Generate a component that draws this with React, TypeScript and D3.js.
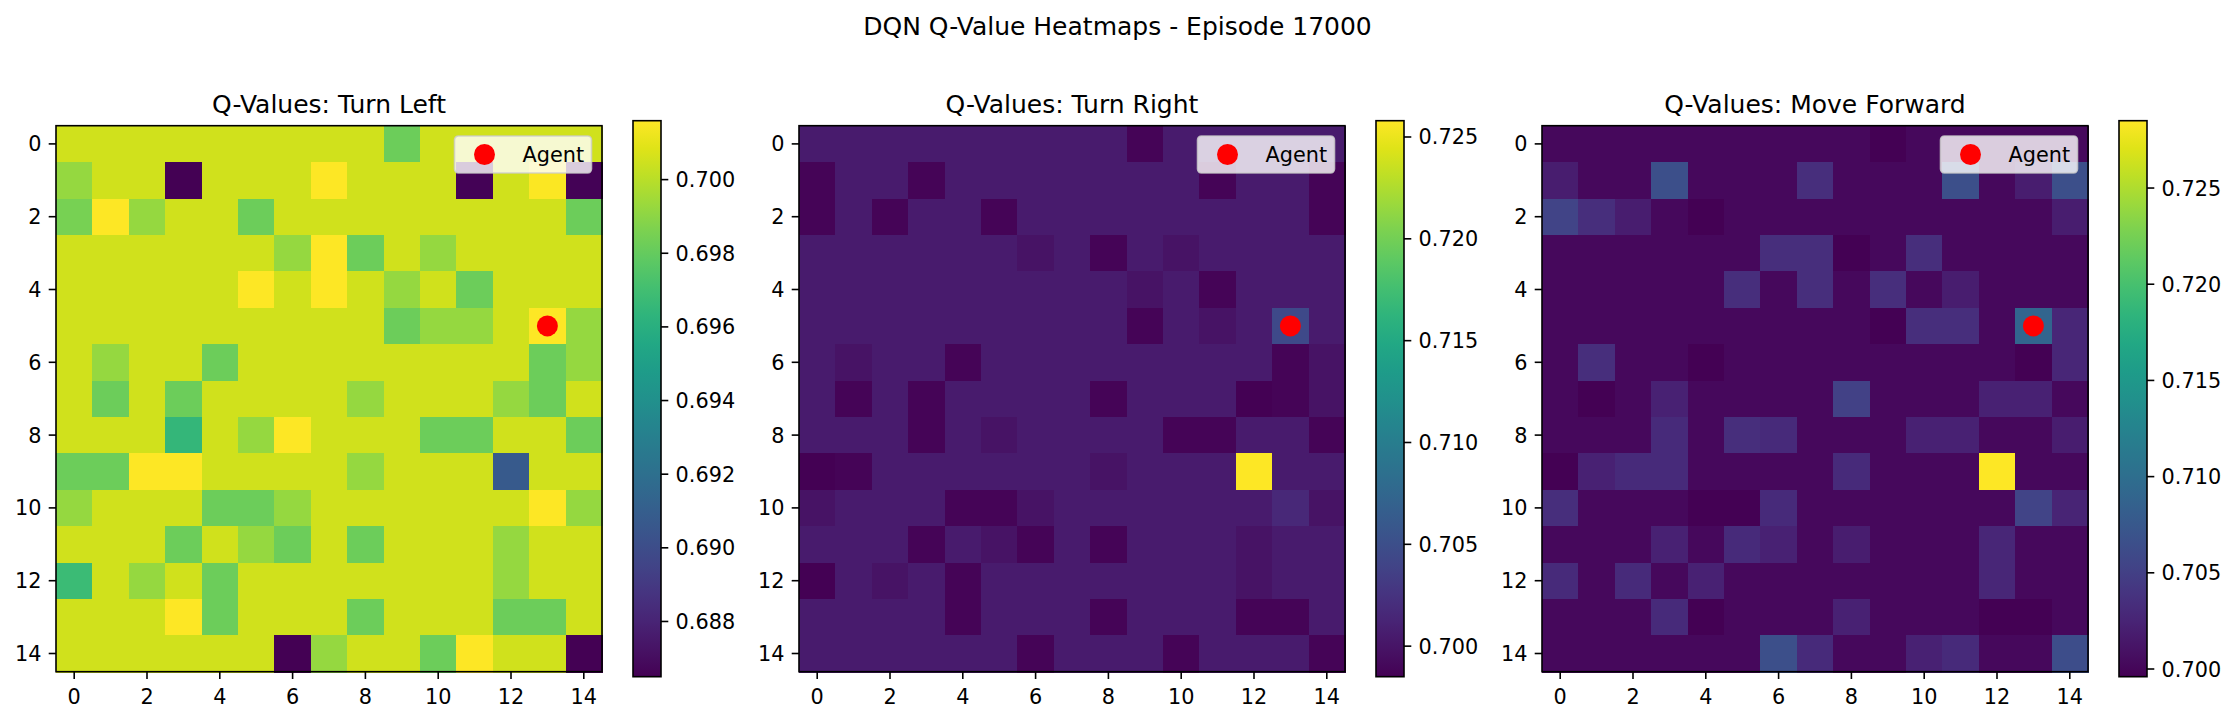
import * as d3 from 'd3';
import React from 'react';

const WIDTH = 2235;
const HEIGHT = 722;

const suptitle = 'DQN Q-Value Heatmaps - Episode 17000';
const panelTitles = ['Q-Values: Turn Left', 'Q-Values: Turn Right', 'Q-Values: Move Forward'];
const cellIndex = [0, 1, 2, 3, 4, 5, 6, 7, 8, 9, 10, 11, 12, 13, 14];
const axisTicks = [0, 2, 4, 6, 8, 10, 12, 14];
const agentPos = { row: 5, col: 13 };

const cbTicksLeft = [0.688, 0.69, 0.692, 0.694, 0.696, 0.698, 0.7];
const cbTicksRight = [0.7, 0.705, 0.71, 0.715, 0.72, 0.725];
const cbTicksForward = [0.7, 0.705, 0.71, 0.715, 0.72, 0.725];

const qLeft = [
  [0.7005, 0.7005, 0.7005, 0.7005, 0.7005, 0.7005, 0.7005, 0.7005, 0.7005, 0.6982, 0.7005, 0.7005, 0.7005, 0.7005, 0.7005],
  [0.6992, 0.7005, 0.7005, 0.6865, 0.7005, 0.7005, 0.7005, 0.7016, 0.7005, 0.7005, 0.7005, 0.6866, 0.7005, 0.7015, 0.6866],
  [0.6985, 0.7016, 0.6992, 0.7005, 0.7005, 0.6982, 0.7005, 0.7005, 0.7005, 0.7005, 0.7005, 0.7005, 0.7005, 0.7005, 0.6982],
  [0.7005, 0.7005, 0.7005, 0.7005, 0.7005, 0.7005, 0.6992, 0.7016, 0.6982, 0.7005, 0.6992, 0.7005, 0.7005, 0.7005, 0.7005],
  [0.7005, 0.7005, 0.7005, 0.7005, 0.7005, 0.7016, 0.7005, 0.7016, 0.7005, 0.6992, 0.7005, 0.6982, 0.7005, 0.7005, 0.7005],
  [0.7005, 0.7005, 0.7005, 0.7005, 0.7005, 0.7005, 0.7005, 0.7005, 0.7005, 0.6982, 0.6992, 0.6992, 0.7005, 0.7016, 0.6992],
  [0.7005, 0.6992, 0.7005, 0.7005, 0.6982, 0.7005, 0.7005, 0.7005, 0.7005, 0.7005, 0.7005, 0.7005, 0.7005, 0.6982, 0.6992],
  [0.7005, 0.6982, 0.7005, 0.6982, 0.7005, 0.7005, 0.7005, 0.7005, 0.6992, 0.7005, 0.7005, 0.7005, 0.6992, 0.6982, 0.7005],
  [0.7005, 0.7005, 0.7005, 0.6965, 0.7005, 0.6992, 0.7016, 0.7005, 0.7005, 0.7005, 0.6982, 0.6982, 0.7005, 0.7005, 0.6982],
  [0.6982, 0.6982, 0.7016, 0.7016, 0.7005, 0.7005, 0.7005, 0.7005, 0.6992, 0.7005, 0.7005, 0.7005, 0.6907, 0.7005, 0.7005],
  [0.6992, 0.7005, 0.7005, 0.7005, 0.6982, 0.6982, 0.6992, 0.7005, 0.7005, 0.7005, 0.7005, 0.7005, 0.7005, 0.7016, 0.6992],
  [0.7005, 0.7005, 0.7005, 0.6982, 0.7005, 0.6992, 0.6982, 0.7005, 0.6982, 0.7005, 0.7005, 0.7005, 0.6992, 0.7005, 0.7005],
  [0.6968, 0.7005, 0.6992, 0.7005, 0.6982, 0.7005, 0.7005, 0.7005, 0.7005, 0.7005, 0.7005, 0.7005, 0.6992, 0.7005, 0.7005],
  [0.7005, 0.7005, 0.7005, 0.7016, 0.6982, 0.7005, 0.7005, 0.7005, 0.6982, 0.7005, 0.7005, 0.7005, 0.6982, 0.6982, 0.7005],
  [0.7005, 0.7005, 0.7005, 0.7005, 0.7005, 0.7005, 0.6865, 0.6992, 0.7005, 0.7005, 0.6982, 0.7016, 0.7005, 0.7005, 0.6865],
];

const qRight = [
  [0.7005, 0.7005, 0.7005, 0.7005, 0.7005, 0.7005, 0.7005, 0.7005, 0.7005, 0.6988, 0.7005, 0.7005, 0.7005, 0.7005, 0.7005],
  [0.6988, 0.7005, 0.7005, 0.6988, 0.7005, 0.7005, 0.7005, 0.7005, 0.7005, 0.7005, 0.7005, 0.6988, 0.7005, 0.7005, 0.6988],
  [0.6988, 0.7005, 0.6988, 0.7005, 0.7005, 0.6988, 0.7005, 0.7005, 0.7005, 0.7005, 0.7005, 0.7005, 0.7005, 0.7005, 0.6988],
  [0.7005, 0.7005, 0.7005, 0.7005, 0.7005, 0.7005, 0.6998, 0.7005, 0.6988, 0.7005, 0.6998, 0.7005, 0.7005, 0.7005, 0.7005],
  [0.7005, 0.7005, 0.7005, 0.7005, 0.7005, 0.7005, 0.7005, 0.7005, 0.7005, 0.6998, 0.7005, 0.6988, 0.7005, 0.7005, 0.7005],
  [0.7005, 0.7005, 0.7005, 0.7005, 0.7005, 0.7005, 0.7005, 0.7005, 0.7005, 0.6988, 0.7005, 0.6998, 0.7005, 0.7045, 0.7005],
  [0.7005, 0.6998, 0.7005, 0.7005, 0.6988, 0.7005, 0.7005, 0.7005, 0.7005, 0.7005, 0.7005, 0.7005, 0.7005, 0.6988, 0.6998],
  [0.7005, 0.6988, 0.7005, 0.6988, 0.7005, 0.7005, 0.7005, 0.7005, 0.6988, 0.7005, 0.7005, 0.7005, 0.6985, 0.6988, 0.6998],
  [0.7005, 0.7005, 0.7005, 0.6988, 0.7005, 0.6998, 0.7005, 0.7005, 0.7005, 0.7005, 0.6988, 0.6988, 0.7005, 0.7005, 0.6988],
  [0.6985, 0.6988, 0.7005, 0.7005, 0.7005, 0.7005, 0.7005, 0.7005, 0.6998, 0.7005, 0.7005, 0.7005, 0.7258, 0.7005, 0.7005],
  [0.6998, 0.7005, 0.7005, 0.7005, 0.6988, 0.6988, 0.6998, 0.7005, 0.7005, 0.7005, 0.7005, 0.7005, 0.7005, 0.7015, 0.6998],
  [0.7005, 0.7005, 0.7005, 0.6988, 0.7005, 0.6998, 0.6988, 0.7005, 0.6988, 0.7005, 0.7005, 0.7005, 0.6998, 0.7005, 0.7005],
  [0.6985, 0.7005, 0.6998, 0.7005, 0.6988, 0.7005, 0.7005, 0.7005, 0.7005, 0.7005, 0.7005, 0.7005, 0.6998, 0.7005, 0.7005],
  [0.7005, 0.7005, 0.7005, 0.7005, 0.6988, 0.7005, 0.7005, 0.7005, 0.6988, 0.7005, 0.7005, 0.7005, 0.6988, 0.6988, 0.7005],
  [0.7005, 0.7005, 0.7005, 0.7005, 0.7005, 0.7005, 0.6988, 0.7005, 0.7005, 0.7005, 0.6988, 0.7005, 0.7005, 0.7005, 0.6988],
];

const qForward = [
  [0.7002, 0.7002, 0.7002, 0.7002, 0.7002, 0.7002, 0.7002, 0.7002, 0.7002, 0.6996, 0.7002, 0.7002, 0.7002, 0.7002, 0.7002],
  [0.7019, 0.7002, 0.7002, 0.7065, 0.7002, 0.7002, 0.7002, 0.7034, 0.7002, 0.7002, 0.7002, 0.7065, 0.7002, 0.7019, 0.7065],
  [0.7054, 0.7034, 0.7019, 0.7002, 0.6996, 0.7002, 0.7002, 0.7002, 0.7002, 0.7002, 0.7002, 0.7002, 0.7002, 0.7002, 0.7019],
  [0.7002, 0.7002, 0.7002, 0.7002, 0.7002, 0.7002, 0.7034, 0.7034, 0.6996, 0.7002, 0.7034, 0.7002, 0.7002, 0.7002, 0.7002],
  [0.7002, 0.7002, 0.7002, 0.7002, 0.7002, 0.7034, 0.7002, 0.7034, 0.7002, 0.7034, 0.7002, 0.7019, 0.7002, 0.7002, 0.7002],
  [0.7002, 0.7002, 0.7002, 0.7002, 0.7002, 0.7002, 0.7002, 0.7002, 0.7002, 0.6996, 0.7034, 0.7034, 0.7002, 0.7089, 0.7027],
  [0.7002, 0.7034, 0.7002, 0.7002, 0.6997, 0.7002, 0.7002, 0.7002, 0.7002, 0.7002, 0.7002, 0.7002, 0.7002, 0.6996, 0.7027],
  [0.7002, 0.6997, 0.7002, 0.7022, 0.7002, 0.7002, 0.7002, 0.7002, 0.7052, 0.7002, 0.7002, 0.7002, 0.7022, 0.7022, 0.7002],
  [0.7002, 0.7002, 0.7002, 0.7030, 0.7002, 0.7034, 0.7030, 0.7002, 0.7002, 0.7002, 0.7022, 0.7022, 0.7002, 0.7002, 0.7019],
  [0.6997, 0.7022, 0.7030, 0.7030, 0.7002, 0.7002, 0.7002, 0.7002, 0.7030, 0.7002, 0.7002, 0.7002, 0.7285, 0.7002, 0.7002],
  [0.7034, 0.7002, 0.7002, 0.7002, 0.6997, 0.6997, 0.7030, 0.7002, 0.7002, 0.7002, 0.7002, 0.7002, 0.7002, 0.7054, 0.7025],
  [0.7002, 0.7002, 0.7002, 0.7022, 0.7002, 0.7030, 0.7022, 0.7002, 0.7019, 0.7002, 0.7002, 0.7002, 0.7027, 0.7002, 0.7002],
  [0.7030, 0.7002, 0.7030, 0.7002, 0.7022, 0.7002, 0.7002, 0.7002, 0.7002, 0.7002, 0.7002, 0.7002, 0.7027, 0.7002, 0.7002],
  [0.7002, 0.7002, 0.7002, 0.7030, 0.6997, 0.7002, 0.7002, 0.7002, 0.7022, 0.7002, 0.7002, 0.7002, 0.6997, 0.6997, 0.7002],
  [0.7002, 0.7002, 0.7002, 0.7002, 0.7002, 0.7002, 0.7065, 0.7030, 0.7002, 0.7002, 0.7022, 0.7030, 0.7002, 0.7002, 0.7063],
];

// layout (figure pixels, 150 dpi)
const AX_SIZE = 546;
const AX_TOP = 125.7;
const AX_LEFTS = [56, 799, 1542];
const CB_OFFSET = 577;
const CB_W = 28;
const CB_TOP = 120.7;
const CB_H = 556;
const TICK = 7.3;
const PAD = 7.3;
const FONT = 'DejaVu Sans, Verdana, sans-serif';
const LW = 1.6;

interface IPanelProps {
  id: string;
  left: number;
  title: string;
  values: number[][];
  cbTicks: number[];
}

function Panel({ id, left, title, values, cbTicks }: IPanelProps) {
  const x = d3.scaleBand<number>().domain(cellIndex).range([0, AX_SIZE]);
  const y = d3.scaleBand<number>().domain(cellIndex).range([0, AX_SIZE]);
  const extent = d3.extent(values.flat()) as [number, number];
  const color = d3.scaleSequential(d3.interpolateViridis).domain(extent);
  const cb = d3.scaleLinear().domain(extent).range([CB_H, 0]);
  const half = x.bandwidth() / 2;
  const stops = d3.range(0, 1.0001, 0.05);
  const fmt = d3.format('.3f');

  const legW = 137;
  const legH = 37;
  const legX = AX_SIZE - 10.5 - legW;
  const legY = 10.3;

  return (
    <g>
      <defs>
        <linearGradient id={`grad-${id}`} x1="0" y1="1" x2="0" y2="0">
          {stops.map((s) => (
            <stop key={s} offset={s} stopColor={d3.interpolateViridis(s)} />
          ))}
        </linearGradient>
      </defs>

      <g transform={`translate(${left},${AX_TOP})`}>
        {values.map((row, r) =>
          row.map((v, c) => (
            <rect
              key={`${r}-${c}`}
              x={x(c)}
              y={y(r)}
              width={x.bandwidth() + 1}
              height={y.bandwidth() + 1}
              fill={color(v)}
              shapeRendering="crispEdges"
            />
          ))
        )}

        <circle cx={x(agentPos.col)! + half} cy={y(agentPos.row)! + half} r={10.5} fill="#ff0000" />

        <rect x={0} y={0} width={AX_SIZE} height={AX_SIZE} fill="none" stroke="#000" strokeWidth={LW} />

        {axisTicks.map((t) => (
          <g key={`x${t}`} transform={`translate(${x(t)! + half},${AX_SIZE})`}>
            <line y2={TICK} stroke="#000" strokeWidth={LW} />
            <text y={TICK + PAD + 17.5} textAnchor="middle" fontSize={20.8} fontFamily={FONT}>
              {t}
            </text>
          </g>
        ))}
        {axisTicks.map((t) => (
          <g key={`y${t}`} transform={`translate(0,${y(t)! + half})`}>
            <line x2={-TICK} stroke="#000" strokeWidth={LW} />
            <text x={-TICK - PAD} y={7.5} textAnchor="end" fontSize={20.8} fontFamily={FONT}>
              {t}
            </text>
          </g>
        ))}

        <text x={AX_SIZE / 2} y={-12.4} textAnchor="middle" fontSize={25} fontFamily={FONT}>
          {title}
        </text>

        <g transform={`translate(${legX},${legY})`}>
          <rect width={legW} height={legH} rx={4} fill="#fff" fillOpacity={0.8} stroke="#cccccc" strokeOpacity={0.8} strokeWidth={1.6} />
          <circle cx={30} cy={legH / 2} r={10.5} fill="#ff0000" />
          <text x={68} y={legH / 2 + 7.5} fontSize={20.8} fontFamily={FONT}>
            Agent
          </text>
        </g>
      </g>

      <g transform={`translate(${left + CB_OFFSET},${CB_TOP})`}>
        <rect width={CB_W} height={CB_H} fill={`url(#grad-${id})`} />
        <rect width={CB_W} height={CB_H} fill="none" stroke="#000" strokeWidth={LW} />
        {cbTicks.map((t) => (
          <g key={t} transform={`translate(${CB_W},${cb(t)})`}>
            <line x2={TICK} stroke="#000" strokeWidth={LW} />
            <text x={TICK + PAD} y={7.5} fontSize={20.8} fontFamily={FONT}>
              {fmt(t)}
            </text>
          </g>
        ))}
      </g>
    </g>
  );
}

export default function App() {
  const panels = [
    { id: 'left', values: qLeft, ticks: cbTicksLeft },
    { id: 'right', values: qRight, ticks: cbTicksRight },
    { id: 'forward', values: qForward, ticks: cbTicksForward },
  ];
  return (
    <svg
      width={WIDTH}
      height={HEIGHT}
      style={{ position: 'absolute', left: 0, top: 0, background: '#fff' }}
    >
      <rect width={WIDTH} height={HEIGHT} fill="#fff" />
      <text x={WIDTH / 2} y={35} textAnchor="middle" fontSize={25} fontFamily={FONT}>
        {suptitle}
      </text>
      {panels.map((p, i) => (
        <Panel key={p.id} id={p.id} left={AX_LEFTS[i]} title={panelTitles[i]} values={p.values} cbTicks={p.ticks} />
      ))}
    </svg>
  );
}
